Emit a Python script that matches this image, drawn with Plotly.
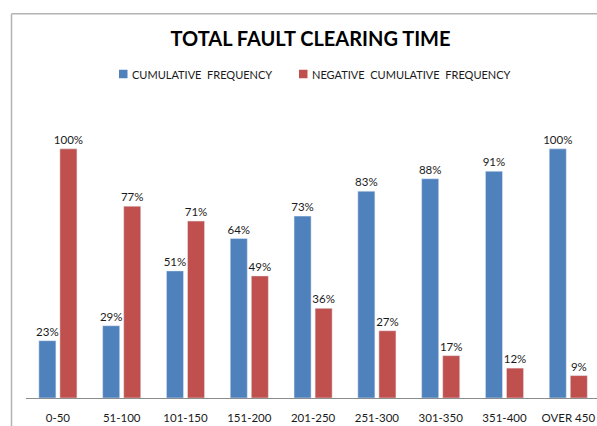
import plotly.graph_objects as go

categories = ["0-50", "51-100", "101-150", "151-200", "201-250",
              "251-300", "301-350", "351-400", "OVER 450"]
cumulative = [0.23, 0.29, 0.51, 0.64, 0.73, 0.83, 0.88, 0.91, 1.00]
negative_cumulative = [1.00, 0.77, 0.71, 0.49, 0.36, 0.27, 0.17, 0.12, 0.09]
series_names = ["CUMULATIVE\u00a0\u00a0FREQUENCY",
                "NEGATIVE\u00a0\u00a0CUMULATIVE\u00a0\u00a0FREQUENCY"]
colors = ["#4F81BD", "#C0504D"]

W, H = 597, 426
ML, MR, MT, MB = 26, 0, 99, 28
FONT = "Lato, Carlito, Calibri, sans-serif"
pw = W - ML - MR
ph = H - MT - MB


def px_x(x):
    return (x - ML) / pw


def px_y(y):
    return (H - MB - y) / ph


fig = go.Figure()
for vals, name, col in zip([cumulative, negative_cumulative], series_names, colors):
    fig.add_trace(go.Bar(
        x=categories, y=vals, name=name,
        marker=dict(color=col),
        texttemplate="%{y:.0%}", textposition="outside", cliponaxis=False,
        constraintext="none", hoverinfo="skip",
        textfont=dict(size=11.5, color="#1a1a1a", family=FONT),
    ))

shapes = [
    dict(type="line", xref="paper", yref="paper",
         x0=px_x(11.5), x1=px_x(11.5), y0=px_y(600), y1=px_y(13.7),
         line=dict(color="#b3b3b3", width=1.5)),
    dict(type="line", xref="paper", yref="paper",
         x0=px_x(11.5), x1=1.2, y0=px_y(13.7), y1=px_y(13.7),
         line=dict(color="#b3b3b3", width=1.5)),
]
annotations = []
legend_x = [119, 299]
for lx, name, col in zip(legend_x, series_names, colors):
    shapes.append(dict(type="rect", xref="paper", yref="paper",
                       x0=px_x(lx), x1=px_x(lx + 8.5),
                       y0=px_y(74 + 4.25), y1=px_y(74 - 4.25),
                       line=dict(width=0), fillcolor=col))
    annotations.append(dict(xref="paper", yref="paper", x=px_x(lx + 11), y=px_y(74),
                            xanchor="left", yanchor="middle", showarrow=False,
                            text=name, font=dict(size=11, family=FONT, color="#1a1a1a")))

fig.update_layout(
    width=W, height=H,
    margin=dict(l=ML, r=MR, t=MT, b=MB, pad=0),
    paper_bgcolor="white", plot_bgcolor="white",
    font=dict(family=FONT, size=11, color="#1a1a1a"),
    barmode="group", bargap=0.34, bargroupgap=0.19,
    showlegend=False, hovermode=False,
    title=dict(text="<b>TOTAL FAULT CLEARING TIME</b>",
               x=310.5 / W, xref="container", xanchor="center",
               y=1 - 38.5 / H, yref="container", yanchor="middle",
               font=dict(size=20, family=FONT, color="#000000")),
    xaxis=dict(range=[-0.5, 8.45], showgrid=False, ticks="",
               showline=True, linecolor="#8c8c8c", linewidth=1,
               ticklabelstandoff=9,
               tickfont=dict(size=11.5, family=FONT, color="#1a1a1a")),
    yaxis=dict(range=[0, 1.2], visible=False, showgrid=False),
    shapes=shapes,
    annotations=annotations,
)

fig.write_html("out.html", config={"displayModeBar": False, "staticPlot": True},
               post_script="document.body.style.margin='0';document.body.style.overflow='hidden';")
